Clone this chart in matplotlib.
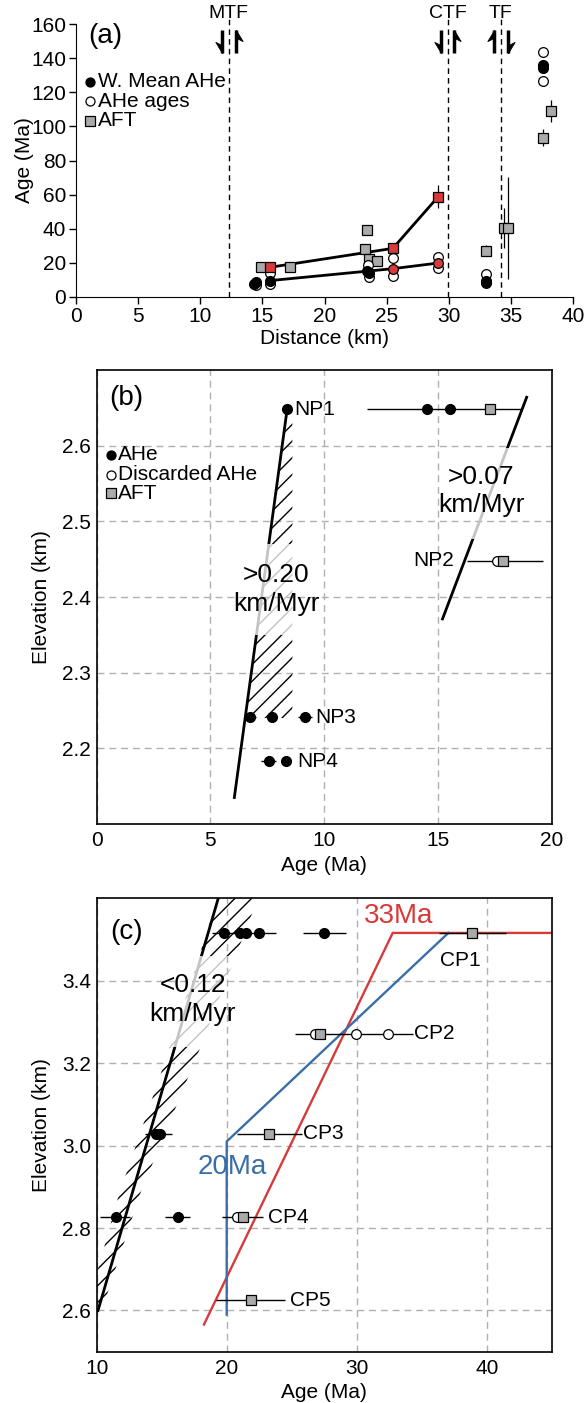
import numpy as np
import matplotlib
matplotlib.use('Agg')
import matplotlib.pyplot as plt
from matplotlib.patches import Rectangle

plt.rcParams['font.family'] = ['Liberation Sans', 'DejaVu Sans']
plt.rcParams['font.size'] = 15
plt.rcParams['hatch.linewidth'] = 1.0

RED = '#d63a3a'
BLUE = '#3b6ea6'
GREY = '#aaaaaa'
LIGHT = '#c4c4c4'

# ---------------- panel (a): age vs distance ----------------
mean_ahe_x = [14.3, 14.5, 15.6, 23.4, 23.6, 33.0, 33.0, 37.6, 37.6]
mean_ahe_y = [7.5, 8.5, 9.6, 15.5, 14.0, 9.5, 8.5, 136, 134]
ahe_x = [14.5, 15.6, 15.6, 23.5, 23.6, 25.5, 25.5, 29.15, 29.15, 33.0, 33.0, 37.6, 37.6]
ahe_y = [7.0, 13.9, 7.6, 18.8, 11.5, 23.1, 12.3, 23.6, 16.8, 13.5, 8.3, 143.8, 126.8]
aft_x = [14.9, 17.2, 23.4, 23.25, 23.6, 24.2, 33.0, 34.45, 34.8, 37.6, 38.2]
aft_y = [17.8, 17.8, 39.3, 28.0, 22.1, 21.3, 27.2, 40.6, 40.6, 93.4, 109]
aft_err = [0, 0, 0, 0, 0, 0, 3, 11.7, 30, 5, 6.4]
red_aft_x = [15.6, 25.5, 29.15]
red_aft_y = [17.4, 28.5, 58.8]
red_aft_err = [0, 0, 6.8]
red_ahe_x = [25.5, 29.15]
red_ahe_y = [16.6, 19.9]
ahe_line_x = [15.6, 25.5, 29.15]
ahe_line_y = [9.6, 16.6, 19.9]
fault_names = ['MTF', 'CTF', 'TF']
fault_x = [12.3, 29.9, 34.2]
# sense of the half arrows either side of each fault: -1 down, +1 up
fault_left_dir = [-1, -1, 1]
fault_right_dir = [1, 1, -1]

# ---------------- panel (b): north profile ----------------
np_ahe_x = [8.37, 14.53, 15.52, 6.75, 7.7, 9.15, 7.56, 8.31]
np_ahe_y = [2.648, 2.648, 2.648, 2.241, 2.241, 2.241, 2.183, 2.183]
np_disc_x = [17.6]
np_disc_y = [2.448]
np_aft_x = [17.3, 17.88]
np_aft_y = [2.648, 2.448]
np_bar_y = [2.648, 2.448, 2.241, 2.241, 2.183, 2.183]
np_bar_x0 = [11.9, 16.27, 6.5, 8.85, 7.2, 8.1]
np_bar_x1 = [18.7, 19.6, 7.0, 9.45, 7.9, 8.5]
np_names = ['NP1', 'NP2', 'NP3', 'NP4']
np_name_x = [8.7, 15.7, 9.6, 8.8]
np_name_y = [2.648, 2.448, 2.241, 2.183]
np_name_ha = ['left', 'right', 'left', 'left']
np_fast_x = [6.05, 8.37]
np_fast_y = [2.135, 2.648]
np_fast_grey = (2.35, 2.47)
np_fast_band_y = [2.24, 2.64]
np_fast_band_x0 = [6.52, 8.33]
np_fast_band_x1 = [8.6, 8.6]
np_slow_x = [15.2, 18.9]
np_slow_y = [2.371, 2.664]
np_slow_grey = (2.476, 2.597)

# ---------------- panel (c): central profile ----------------
cp_ahe_x = [19.82, 21.02, 21.46, 22.46, 27.5, 14.55, 14.9, 11.46, 16.23]
cp_ahe_y = [3.516, 3.516, 3.516, 3.516, 3.516, 3.029, 3.029, 2.826, 2.826]
cp_disc_x = [26.8, 29.95, 32.4, 20.77]
cp_disc_y = [3.271, 3.271, 3.271, 2.826]
cp_aft_x = [38.9, 27.18, 23.28, 21.23, 21.85]
cp_aft_y = [3.516, 3.271, 3.029, 2.826, 2.625]
cp_bar_y = [3.516, 3.516, 3.516, 3.271, 3.029, 3.029, 2.826, 2.826, 2.826, 2.625]
cp_bar_x0 = [18.85, 25.9, 36.3, 25.25, 13.7, 20.77, 10.26, 15.26, 19.6, 19.18]
cp_bar_x1 = [23.8, 29.2, 41.5, 34.35, 15.77, 25.77, 12.56, 17.18, 22.77, 24.48]
cp_names = ['CP1', 'CP2', 'CP3', 'CP4', 'CP5']
cp_name_x = [37.95, 34.4, 25.9, 23.2, 24.9]
cp_name_y = [3.449, 3.271, 3.029, 2.826, 2.625]
cp_name_ha = ['center', 'left', 'left', 'left', 'left']
model20_x = [20, 20, 37.05]
model20_y = [2.59, 3.01, 3.516]
model33_x = [18.25, 32.77, 45]
model33_y = [2.566, 3.516, 3.516]
cp_trend_x = [10.1, 19.35]
cp_trend_y = [2.6, 3.6]
cp_trend_grey = (3.24, 3.46)
cp_band_y = [2.6, 2.88, 3.236, 3.6]
cp_band_x0 = [9.2, 11.7, 15.6, 19.3]
cp_band_x1 = [10.4, 13.3, 17.95, 22.4]


def clip_rect(ax, artist, ylo, yhi):
    x0, x1 = ax.get_xlim()
    r = Rectangle((x0, ylo), x1 - x0, yhi - ylo, transform=ax.transData)
    artist.set_clip_path(r)


def trend(ax, x, y, grey, band=None):
    y0, y1 = ax.get_ylim()
    pieces = [(y0, grey[0], 'k'), (grey[0], grey[1], LIGHT), (grey[1], y1, 'k')]
    for lo, hi, c in pieces:
        if band is not None:
            by, bx0, bx1 = band
            pc = ax.fill_betweenx(by, bx0, bx1, facecolor='none', edgecolor=c,
                                  hatch='//', linewidth=0, zorder=1.5)
            clip_rect(ax, pc, lo, hi)
        ln, = ax.plot(x, y, color=c, lw=2, zorder=2)
        clip_rect(ax, ln, lo, hi)


def grid_style(ax):
    ax.grid(True, ls=(0, (5, 3.5)), color='#b0b0b0', lw=1)
    ax.set_axisbelow(True)
    for s in ax.spines.values():
        s.set_linewidth(1.2)
    ax.tick_params(length=0, labelsize=15)
    ax.tick_params(axis='x', pad=5)
    ax.tick_params(axis='y', pad=4)


def key(ax, x, y, marker, face, label):
    ax.plot([x], [y], marker, ms=6.5, mfc=face, mec='k', mew=0.9,
            transform=ax.transAxes, clip_on=False)
    ax.text(x + 0.016, y, label, transform=ax.transAxes, va='center', ha='left', fontsize=15)


def half_arrow(ax, x, direction, side):
    # stem plus a one-sided (half) arrow head; side -1 barb left, +1 barb right
    lo, hi = 143, 156.5
    ax.vlines(x, lo, hi, colors='k', lw=2.5, clip_on=False)
    if direction < 0:
        tip, verts = lo, [(0, 0), (side * 0.6, 1), (0, 0.7), (0, 0)]
    else:
        tip, verts = hi, [(0, 0), (side * 0.6, -1), (0, -0.7), (0, 0)]
    ax.plot([x], [tip], marker=verts, ms=16, color='k', mew=0.6, clip_on=False)


fig = plt.figure(figsize=(5.86, 14.03), dpi=100)

# ---- (a) ----
ax1 = fig.add_axes([76 / 586, 1 - 297 / 1403, 497 / 586, 273 / 1403])
ax1.set_xlim(0, 40)
ax1.set_ylim(0, 160)
ax1.spines['top'].set_visible(False)
ax1.spines['right'].set_visible(False)
ax1.set_xticks(range(0, 41, 5))
ax1.set_yticks(range(0, 161, 20))
ax1.tick_params(direction='out', length=5, width=1, labelsize=15, pad=2)

ax1.vlines(fault_x, 0, 163, colors='k', linestyles=(0, (4, 3)), lw=1, clip_on=False)
for name, fx, ld, rd in zip(fault_names, fault_x, fault_left_dir, fault_right_dir):
    ax1.text(fx, 166, name, ha='center', va='center', fontsize=14, clip_on=False)
    half_arrow(ax1, fx - 0.55, ld, -1)
    half_arrow(ax1, fx + 0.55, rd, 1)

ax1.plot(red_aft_x, red_aft_y, color='k', lw=2, zorder=2)
ax1.plot(ahe_line_x, ahe_line_y, color='k', lw=2, zorder=2)
ax1.errorbar(aft_x, aft_y, yerr=aft_err, fmt='s', ms=7, mfc=GREY, mec='k', mew=0.9,
             ecolor='k', elinewidth=0.9, capsize=0, zorder=3)
ax1.plot(ahe_x, ahe_y, 'o', ms=7, mfc='white', mec='k', mew=0.9, zorder=4, clip_on=False)
ax1.plot(mean_ahe_x, mean_ahe_y, 'o', ms=7, mfc='k', mec='k', zorder=5, clip_on=False)
ax1.errorbar(red_aft_x, red_aft_y, yerr=red_aft_err, fmt='s', ms=7, mfc=RED, mec='k', mew=0.9,
             ecolor='k', elinewidth=0.9, capsize=0, zorder=6)
ax1.plot(red_ahe_x, red_ahe_y, 'o', ms=7, mfc=RED, mec='k', mew=0.9, zorder=6)

key(ax1, 0.028, 0.789, 'o', 'k', 'W. Mean AHe')
key(ax1, 0.028, 0.717, 'o', 'white', 'AHe ages')
key(ax1, 0.028, 0.646, 's', GREY, 'AFT')
ax1.text(0.058, 0.955, '(a)', transform=ax1.transAxes, ha='center', va='center', fontsize=20)
ax1.set_xlabel('Distance (km)', fontsize=15)
ax1.set_ylabel('Age (Ma)', fontsize=15)
ax1.xaxis.set_label_coords(0.5, -0.118)
ax1.yaxis.set_label_coords(-0.085, 0.5)

# ---- (b) ----
ax2 = fig.add_axes([96.7 / 586, (1403 - 824) / 1403, 455 / 586, 454 / 1403])
ax2.set_xlim(0, 20)
ax2.set_ylim(2.1, 2.7)
ax2.set_xticks([0, 5, 10, 15, 20])
ax2.set_yticks([2.2, 2.3, 2.4, 2.5, 2.6])
grid_style(ax2)

trend(ax2, np_fast_x, np_fast_y, np_fast_grey, (np_fast_band_y, np_fast_band_x0, np_fast_band_x1))
trend(ax2, np_slow_x, np_slow_y, np_slow_grey)
ax2.hlines(np_bar_y, np_bar_x0, np_bar_x1, colors='k', lw=1, zorder=3)
ax2.plot(np_ahe_x, np_ahe_y, 'o', ms=7, mfc='k', mec='k', zorder=4)
ax2.plot(np_disc_x, np_disc_y, 'o', ms=7, mfc='white', mec='k', mew=0.9, zorder=4)
ax2.plot(np_aft_x, np_aft_y, 's', ms=6.5, mfc=GREY, mec='k', mew=0.9, zorder=5)
for n, x, y, ha in zip(np_names, np_name_x, np_name_y, np_name_ha):
    ax2.text(x, y, n, ha=ha, va='center', fontsize=15)
ax2.text(7.9, 2.41, '>0.20\nkm/Myr', ha='center', va='center', fontsize=19, linespacing=1.25)
ax2.text(16.9, 2.54, '>0.07\nkm/Myr', ha='center', va='center', fontsize=19, linespacing=1.25)

key(ax2, 0.031, 0.813, 'o', 'k', 'AHe')
key(ax2, 0.031, 0.769, 'o', 'white', 'Discarded AHe')
key(ax2, 0.031, 0.728, 's', GREY, 'AFT')
ax2.text(0.066, 0.938, '(b)', transform=ax2.transAxes, ha='center', va='center', fontsize=20)
ax2.set_xlabel('Age (Ma)', fontsize=15)
ax2.set_ylabel('Elevation (km)', fontsize=15)
ax2.xaxis.set_label_coords(0.5, -0.07)
ax2.yaxis.set_label_coords(-0.1, 0.5)

# ---- (c) ----
ax3 = fig.add_axes([96.7 / 586, (1403 - 1351.7) / 1403, 455 / 586, 453.4 / 1403])
ax3.set_xlim(10, 45)
ax3.set_ylim(2.5, 3.6)
ax3.set_xticks([10, 20, 30, 40])
ax3.set_yticks([2.6, 2.8, 3.0, 3.2, 3.4])
ax3.set_yticklabels(['2.6', '2.8', '3.0', '3.2', '3.4'])
grid_style(ax3)

trend(ax3, cp_trend_x, cp_trend_y, cp_trend_grey, (cp_band_y, cp_band_x0, cp_band_x1))
ax3.plot(model33_x, model33_y, color=RED, lw=1.7, zorder=2.5)
ax3.plot(model20_x, model20_y, color=BLUE, lw=1.7, zorder=2.5)
ax3.hlines(cp_bar_y, cp_bar_x0, cp_bar_x1, colors='k', lw=1, zorder=3)
ax3.plot(cp_ahe_x, cp_ahe_y, 'o', ms=7, mfc='k', mec='k', zorder=4)
ax3.plot(cp_disc_x, cp_disc_y, 'o', ms=7, mfc='white', mec='k', mew=0.9, zorder=4)
ax3.plot(cp_aft_x, cp_aft_y, 's', ms=6.5, mfc=GREY, mec='k', mew=0.9, zorder=5)
for n, x, y, ha in zip(cp_names, cp_name_x, cp_name_y, cp_name_ha):
    ax3.text(x, y, n, ha=ha, va='center', fontsize=15)
ax3.text(17.4, 3.355, '<0.12\nkm/Myr', ha='center', va='center', fontsize=19, linespacing=1.25)
ax3.text(33.2, 3.556, '33Ma', ha='center', va='center', fontsize=20, color=RED)
ax3.text(20.4, 2.947, '20Ma', ha='center', va='center', fontsize=20, color=BLUE)
ax3.text(0.066, 0.926, '(c)', transform=ax3.transAxes, ha='center', va='center', fontsize=20)
ax3.set_xlabel('Age (Ma)', fontsize=15)
ax3.set_ylabel('Elevation (km)', fontsize=15)
ax3.xaxis.set_label_coords(0.5, -0.07)
ax3.yaxis.set_label_coords(-0.1, 0.5)

fig.savefig('out.png', dpi=100)
